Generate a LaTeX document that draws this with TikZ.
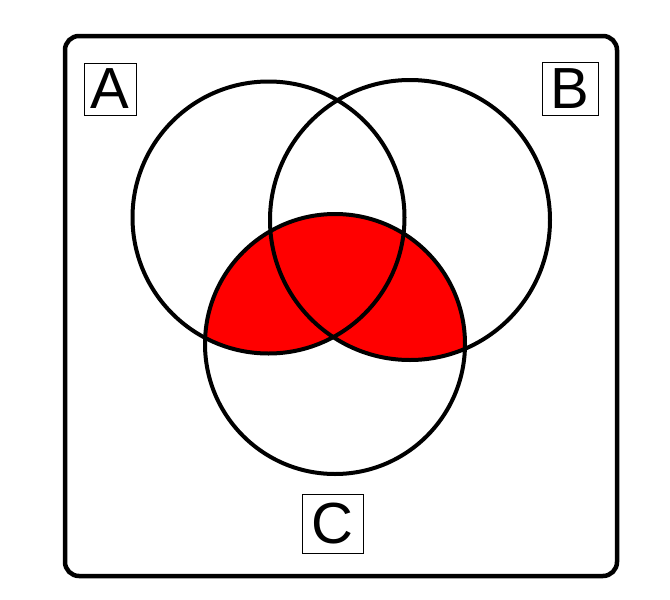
\documentclass[tikz,border=0pt]{standalone}
\usepackage{fontspec}
\setmainfont{Liberation Sans}
\begin{document}
\begin{tikzpicture}[x=1pt,y=-1pt,
    set/.style={draw,line width=4pt},
    set label/.style={draw,line width=0.8pt,inner sep=0pt,
      font=\fontsize{58}{60}\selectfont}]
  \useasboundingbox (0,0) rectangle (670,600);

  \coordinate (a) at (268.5,217.5);
  \coordinate (b) at (410,220);
  \coordinate (c) at (335,344);

  % shaded part: C and (A or B)
  \begin{scope}
    \clip (c) circle (130pt);
    \fill[red] (a) circle (136pt) (b) circle (140pt);
  \end{scope}

  \draw[set] (a) circle (136pt);
  \draw[set] (b) circle (140pt);
  \draw[set] (c) circle (130pt);

  \draw[line width=4.5pt,rounded corners=14pt] (65,36) rectangle (617,576);

  \node[set label,minimum width=52pt,minimum height=52pt] (lA) at (110,89) {A};
  \node[set label,minimum width=56pt,minimum height=53pt] (lB) at (570,88.5) {B};
  \node[set label,minimum width=61pt,minimum height=59pt] (lC) at (332.5,523.5) {C};
\end{tikzpicture}
\end{document}
